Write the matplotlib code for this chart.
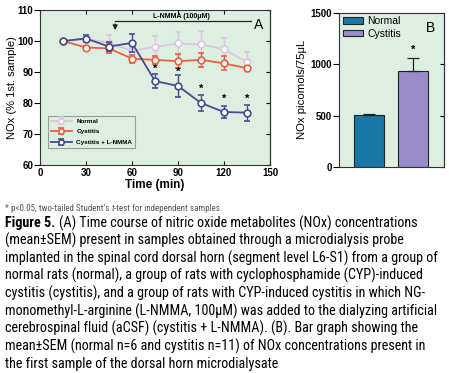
import matplotlib
matplotlib.use("Agg")
import matplotlib.pyplot as plt
from matplotlib import font_manager as fm
import numpy as np

plt.rcParams['font.family'] = ['Liberation Sans', 'DejaVu Sans']

# ---------------- data ----------------
time = [15, 30, 45, 60, 75, 90, 105, 120, 135]
normal = [100, 100.6, 99.4, 96.8, 98.1, 99.2, 98.9, 97.3, 93.2]
normal_err = [0, 1.0, 2.5, 1.0, 3.6, 3.6, 4.2, 3.6, 3.2]
cystitis = [100, 97.9, 97.6, 94.3, 93.9, 93.5, 93.9, 92.8, 91.2]
cystitis_err = [0, 0.6, 1.6, 1.3, 1.4, 2.2, 2.2, 2.3, 0.7]
lnmma = [100, 100.8, 98.2, 99.4, 87.1, 85.5, 80.0, 77.1, 76.9]
lnmma_err = [0, 1.0, 1.5, 3.0, 2.3, 3.5, 2.7, 2.0, 2.6]
star_times = [75, 90, 105, 120, 135]
star_vals = [91.0, 90.2, 84.6, 81.2, 81.4]

bar_labels = ['Normal', 'Cystitis']
bar_vals = [505, 930]
bar_err = [12, 130]

bg = '#dcefe1'
c_norm = '#dcc6df'
c_cyst = '#e8613f'
c_lnm = '#4b4a8c'
c_bar1 = '#1878a6'
c_bar2 = '#9a8cc9'

W, H = 449, 373
fig = plt.figure(figsize=(W/100, H/100), dpi=100)

# ---------------- panel A ----------------
axA = fig.add_axes([40/W, 1-165/H, 230/W, 155/H])
axA.set_facecolor(bg)
kw = dict(marker='o', ms=4.8, mfc='white', mew=1.2, lw=1.3, capsize=2.2, elinewidth=1.0, capthick=1.0)
h1 = axA.errorbar(time, normal, yerr=normal_err, color=c_norm, mec=c_norm, label='Normal', zorder=2, **kw)
h2 = axA.errorbar(time, cystitis, yerr=cystitis_err, color=c_cyst, mec=c_cyst, label='Cystitis', zorder=3, **kw)
h3 = axA.errorbar(time, lnmma, yerr=lnmma_err, color=c_lnm, mec=c_lnm, label='Cystitis + L-NMMA', zorder=4, **kw)
for t, v in zip(star_times, star_vals):
    axA.text(t, v, '*', ha='center', va='center', fontsize=8, fontweight='bold', color='black')

axA.set_xlim(0, 150)
axA.set_ylim(60, 110)
axA.set_xticks([0, 30, 60, 90, 120, 150])
axA.set_yticks([60, 70, 80, 90, 100, 110])
axA.tick_params(axis='x', labelsize=7, width=0.8, length=3, direction='in', top=True, pad=2)
axA.tick_params(axis='y', labelsize=7, width=0.8, length=4, direction='out', pad=1)
secA = axA.secondary_yaxis('right')
secA.set_yticks([60, 70, 80, 90, 100, 110])
secA.tick_params(direction='in', length=3, width=0.8, labelright=False)
secA.spines['right'].set_linewidth(0.8)
secA.spines['right'].set_color('#333333')
for lab in axA.get_xticklabels() + axA.get_yticklabels():
    lab.set_fontweight('bold')
for s in axA.spines.values():
    s.set_linewidth(0.8)
    s.set_color('#333333')
axA.set_xlabel('Time (min)', fontsize=8.5, fontweight='bold', labelpad=1)
axA.set_ylabel('NOx (% 1st. sample)', fontsize=8.0)
axA.yaxis.set_label_coords(-(40-17.5)/230, 0.5)

# arrow for L-NMMA
axA.plot([137.5, 49], [106.3, 106.3], color='#222222', lw=0.9)
axA.annotate('', xy=(49, 102.6), xytext=(49, 106.4),
             arrowprops=dict(arrowstyle='-|>', color='#222222', lw=0.9, mutation_scale=7))
axA.text(92.3, 107.9, 'L-NMMA (100\u03bcM)', ha='center', va='center', fontsize=5, fontweight='bold')
axA.text(142.5, 105.2, 'A', ha='center', va='center', fontsize=10)

leg = axA.legend(handles=[h1, h2, h3], loc='lower left', bbox_to_anchor=(0.035, 0.11),
                 frameon=True, fancybox=False, borderpad=0.45, labelspacing=0.8,
                 handlelength=3.3, handletextpad=0.7, markerscale=0.8, borderaxespad=0,
                 prop=dict(size=4.6, weight='bold'))
leg.get_frame().set_edgecolor('#888888')
leg.get_frame().set_facecolor(bg)
leg.get_frame().set_linewidth(0.8)

# ---------------- panel B ----------------
axB = fig.add_axes([339/W, 1-167/H, 105/W, 154.5/H])
axB.set_facecolor(bg)
xpos = np.arange(1, len(bar_vals)+1)
bars = axB.bar(xpos, bar_vals, width=0.68, color=[c_bar1, c_bar2], edgecolor='#222222', linewidth=0.8,
               yerr=[[0, 0], bar_err], error_kw=dict(ecolor='#222222', elinewidth=0.9, capsize=4, capthick=0.9))
axB.text(2, 1140, '*', ha='center', va='center', fontsize=8, fontweight='bold')
axB.set_xlim(0.32, 2.7)
axB.set_ylim(0, 1500)
axB.set_yticks([0, 500, 1000, 1500])
axB.set_xticks([])
axB.tick_params(axis='y', labelsize=7, width=0.8, length=4, direction='out', pad=1)
secB = axB.secondary_yaxis('right')
secB.set_yticks([0, 500, 1000, 1500])
secB.tick_params(direction='in', length=3, width=0.8, labelright=False)
secB.spines['right'].set_linewidth(0.8)
secB.spines['right'].set_color('#333333')
for lab in axB.get_yticklabels():
    lab.set_fontweight('bold')
for s in axB.spines.values():
    s.set_linewidth(0.8)
    s.set_color('#333333')
axB.set_ylabel('NOx picomols/75\u03bcL', fontsize=8.2)
axB.yaxis.set_label_coords(-(339-307)/105, 0.5)
legB = axB.legend(bars, bar_labels, loc='upper left', fontsize=7.5, frameon=False,
                  handlelength=2.0, handleheight=0.55, handletextpad=0.35, borderaxespad=0.15,
                  labelspacing=0.25, borderpad=0.2)
axB.text(0.87, 0.9, 'B', transform=axB.transAxes, ha='center', va='center', fontsize=10)

# ---------------- caption ----------------
names = {f.name for f in fm.fontManager.ttflist}
cap_kw = dict(family=['Liberation Sans', 'DejaVu Sans'])
for cand in ['Liberation Sans Narrow', 'Roboto Condensed', 'Open Sans Condensed', 'Arial Narrow']:
    if cand in names:
        cap_kw = dict(family=[cand, 'DejaVu Sans'])
        break
else:
    if any(('DejaVuSansCondensed' in f.fname) for f in fm.fontManager.ttflist):
        cap_kw = dict(family=['DejaVu Sans'], stretch='condensed')

renderer = fig.canvas.get_renderer()


def fit_size(strings, target_w, base=10.0, **extra):
    ws = []
    for s in strings:
        t = fig.text(0, 0, s, fontsize=base, **cap_kw, **extra)
        ws.append(t.get_window_extent(renderer).width)
        t.remove()
    return base * target_w / max(ws)


lines = [
    "(A) Time course of nitric oxide metabolites (NOx) concentrations",
    "(mean\u00b1SEM) present in samples obtained through a microdialysis probe",
    "implanted in the spinal cord dorsal horn (segment level L6-S1) from a group of",
    "normal rats (normal), a group of rats with cyclophosphamide (CYP)-induced",
    "cystitis (cystitis), and a group of rats with CYP-induced cystitis in which NG-",
    "monomethyl-L-arginine (L-NMMA, 100\u03bcM) was added to the dialyzing artificial",
    "cerebrospinal fluid (aCSF) (cystitis + L-NMMA). (B). Bar graph showing the",
    "mean\u00b1SEM (normal n=6 and cystitis n=11) of NOx concentrations present in",
    "the first sample of the dorsal horn microdialysate",
]
fs = min(fit_size(lines[5:6], 430.0), 10.5)

# footnote
note_parts = [("* p<0.05, two-tailed Student's ", 'normal'), ("t", 'italic'),
              ("-test for independent samples.", 'normal')]
full_note = ''.join(p for p, _ in note_parts)
nfs = min(fit_size([full_note], 228.0), 6.5)
x = 5.0
for s, style in note_parts:
    t = fig.text(x/W, 1-208/H, s, fontsize=nfs, color='#555555', va='center', style=style, **cap_kw)
    x += t.get_window_extent(renderer).width

y0 = 223
dy = 17.6
for i, ln in enumerate(lines):
    y = 1 - (y0 + i*dy)/H
    if i == 0:
        t = fig.text(5/W, y, "Figure 5. ", fontsize=fs, fontweight='bold', va='center', **cap_kw)
        bb = t.get_window_extent(renderer)
        fig.text(bb.x1/W, y, ln, fontsize=fs, va='center', **cap_kw)
    else:
        fig.text(5/W, y, ln, fontsize=fs, va='center', **cap_kw)

fig.savefig('out.png', dpi=100, facecolor='white')
